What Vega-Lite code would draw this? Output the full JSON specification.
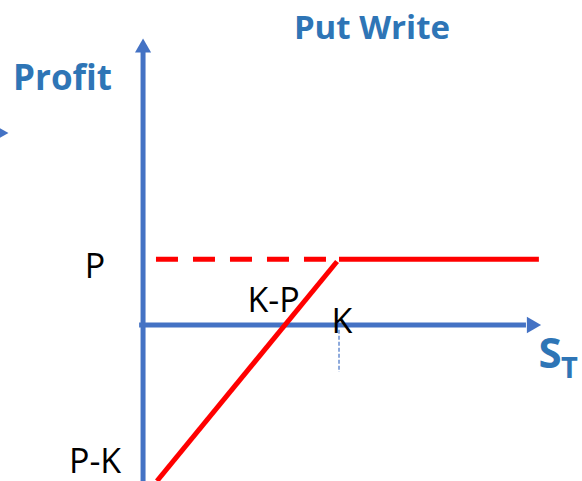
{
  "$schema": "https://vega.github.io/schema/vega-lite/v6.json",
  "width": 582,
  "height": 481,
  "padding": 0,
  "autosize": {"type": "none"},
  "config": {"view": {"stroke": null}},
  "encoding": {
    "x": {"field": "x", "type": "quantitative", "scale": {"domain": [-73, 224], "nice": false, "zero": false}, "axis": null},
    "y": {"field": "y", "type": "quantitative", "scale": {"domain": [-66.4, 138.3], "nice": false, "zero": false}, "axis": null}
  },
  "layer": [
    {
      "data": {"values": [{"x": -2, "y": 0, "x2": 195.4, "y2": 0}, {"x": 0, "y": -67, "x2": 0, "y2": 117}]},
      "mark": {"type": "rule", "color": "#4472C4", "strokeWidth": 5},
      "encoding": {"x2": {"field": "x2"}, "y2": {"field": "y2"}}
    },
    {
      "data": {"values": [{"x": 0, "y": 118.9}]},
      "mark": {"type": "point", "shape": "triangle-up", "filled": true, "size": 260, "color": "#4472C4", "opacity": 1}
    },
    {
      "data": {"values": [{"x": 199.5, "y": 0}]},
      "mark": {"type": "point", "shape": "triangle-right", "filled": true, "size": 270, "color": "#4472C4", "opacity": 1}
    },
    {
      "data": {"values": [{"x": -71.4, "y": 81.7}]},
      "mark": {"type": "point", "shape": "triangle-right", "filled": true, "size": 150, "color": "#4472C4", "opacity": 1, "clip": true}
    },
    {
      "data": {"values": [{"x": 100, "y": -2, "x2": 100, "y2": -20}]},
      "mark": {"type": "rule", "color": "#4472C4", "strokeWidth": 1.2, "strokeDash": [4, 2]},
      "encoding": {"x2": {"field": "x2"}, "y2": {"field": "y2"}}
    },
    {
      "data": {"values": [{"x": 6.6, "y": 28, "x2": 100, "y2": 28}]},
      "mark": {"type": "rule", "color": "#FF0000", "strokeWidth": 5, "strokeDash": [22, 15]},
      "encoding": {"x2": {"field": "x2"}, "y2": {"field": "y2"}}
    },
    {
      "data": {"values": [{"x": 100, "y": 28, "x2": 202, "y2": 28}, {"x": 7.1, "y": -66.4, "x2": 99, "y2": 27}]},
      "mark": {"type": "rule", "color": "#FF0000", "strokeWidth": 5},
      "encoding": {"x2": {"field": "x2"}, "y2": {"field": "y2"}}
    },
    {
      "data": {"values": [{"x": -24.5, "y": 20, "label": "P"}, {"x": 66.6, "y": 5.5, "label": "K-P"}, {"x": 101.5, "y": -3.4, "label": "K"}, {"x": -24.5, "y": -63.2, "label": "P-K"}]},
      "mark": {"type": "text", "font": "Open Sans", "fontSize": 34, "color": "#000000", "align": "center", "baseline": "alphabetic"},
      "encoding": {"text": {"field": "label"}}
    },
    {
      "data": {"values": [{"x": 116.8, "y": 121.7, "label": "Put Write"}]},
      "mark": {"type": "text", "font": "Open Sans", "fontSize": 33, "fontWeight": "bold", "color": "#2E75B6", "align": "center", "baseline": "alphabetic"},
      "encoding": {"text": {"field": "label"}}
    },
    {
      "data": {"values": [{"x": -41.1, "y": 100, "label": "Profit"}]},
      "mark": {"type": "text", "font": "Open Sans", "fontSize": 35, "fontWeight": "bold", "color": "#2E75B6", "align": "center", "baseline": "alphabetic"},
      "encoding": {"text": {"field": "label"}}
    },
    {
      "data": {"values": [{"x": 207.7, "y": -18.3, "label": "S"}]},
      "mark": {"type": "text", "font": "Open Sans", "fontSize": 42, "fontWeight": "bold", "color": "#2E75B6", "align": "center", "baseline": "alphabetic"},
      "encoding": {"text": {"field": "label"}}
    },
    {
      "data": {"values": [{"x": 217.6, "y": -22.6, "label": "T"}]},
      "mark": {"type": "text", "font": "Open Sans", "fontSize": 29, "fontWeight": "bold", "color": "#2E75B6", "align": "center", "baseline": "alphabetic"},
      "encoding": {"text": {"field": "label"}}
    }
  ]
}
